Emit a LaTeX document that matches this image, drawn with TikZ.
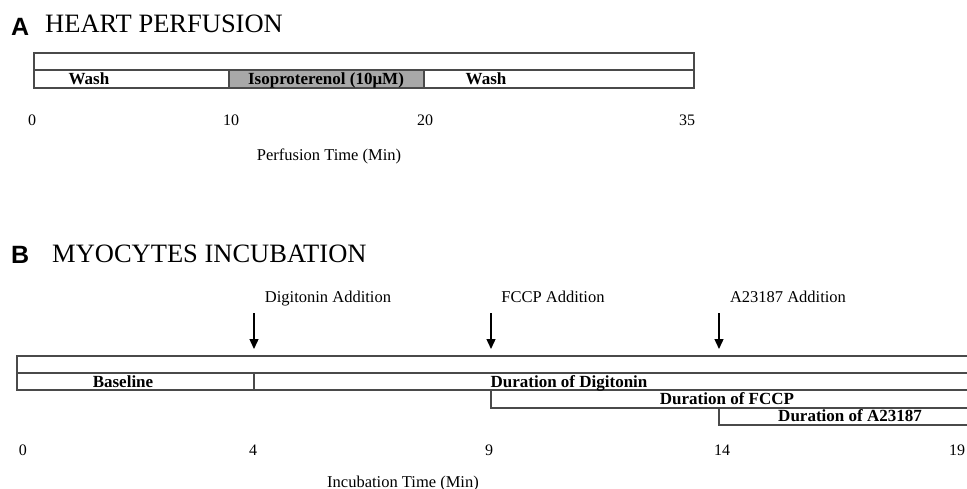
\documentclass[tikz,border=0pt]{standalone}
\usepackage{fontspec}
\setmainfont{Liberation Serif}
\newfontfamily\lettersans{Liberation Sans}
\usetikzlibrary{arrows.meta}
\definecolor{linegray}{HTML}{4A4A4A}
\definecolor{cellgray}{HTML}{A8A8A8}
\tikzset{
  bar/.style={draw=linegray, line width=1.3pt},
  celltxt/.style={inner sep=0pt, anchor=base, font=\fontsize{17}{18}\selectfont\bfseries},
  ticktxt/.style={inner sep=0pt, anchor=base, font=\fontsize{16}{18}\selectfont},
  axistxt/.style={inner sep=0pt, anchor=base, font=\fontsize{16.5}{18}\selectfont},
  titletxt/.style={inner sep=0pt, anchor=base west, font=\fontsize{26.5}{28}\selectfont},
  lettertxt/.style={inner sep=0pt, anchor=base west, font=\fontsize{25}{26}\selectfont\lettersans\bfseries},
  addtxt/.style={inner sep=0pt, anchor=base, font=\fontsize{16.5}{18}\selectfont},
  addarrow/.style={line width=1.4pt, -{Triangle[width=9pt,length=10pt]}}
}
\begin{document}
\begin{tikzpicture}[x=1pt,y=-1pt]
\useasboundingbox (0,0) rectangle (967,489);
\clip (0,0) rectangle (967,489);
% ---------- A ----------
\node[lettertxt] (letA) at (11,36) {A};
\node[titletxt] (titleA) at (45,33) {HEART PERFUSION};
\fill[cellgray] (229,70) rectangle (424,88);
\draw[bar] (34,53) rectangle (694,88);
\draw[bar] (34,70) -- (694,70);
\draw[bar] (229,70) -- (229,88);
\draw[bar] (424,70) -- (424,88);
\node[celltxt] (washA) at (89,85) {Wash};
\node[celltxt] (iso) at (326,85) {Isoproterenol (10μM)};
\node[celltxt] (washB) at (486,85) {Wash};
\node[ticktxt] (ta0) at (32,126) {0};
\node[ticktxt] (ta10) at (231,126) {10};
\node[ticktxt] (ta20) at (425,126) {20};
\node[ticktxt] (ta35) at (687,126) {35};
\node[axistxt] (axisA) at (329,161) {Perfusion Time (Min)};
% ---------- B ----------
\node[lettertxt] (letB) at (11,264) {B};
\node[titletxt] (titleB) at (52,262) {MYOCYTES INCUBATION};
\node[addtxt] (digadd) at (328,302) {Digitonin Addition};
\node[addtxt] (fccpadd) at (553,302) {FCCP Addition};
\node[addtxt] (a23add) at (788,302) {A23187 Addition};
\coordinate (d0) at (254,313);
\coordinate (d1) at (254,349);
\coordinate (f0) at (491,313);
\coordinate (f1) at (491,349);
\coordinate (c0) at (719,313);
\coordinate (c1) at (719,349);
\draw[addarrow] (d0) -- (d1);
\draw[addarrow] (f0) -- (f1);
\draw[addarrow] (c0) -- (c1);
\draw[bar] (975,356) -- (17,356) -- (17,390) -- (975,390);
\draw[bar] (17,373) -- (975,373);
\draw[bar] (254,373) -- (254,390);
\draw[bar] (491,390) -- (491,408) -- (975,408);
\draw[bar] (719,408) -- (719,425) -- (975,425);
\node[celltxt] (base) at (123,387) {Baseline};
\node[celltxt] (durdig) at (569,387) {Duration of Digitonin};
\node[celltxt] (durfccp) at (727,404) {Duration of FCCP};
\node[celltxt] (dura23) at (850,421) {Duration of A23187};
\node[ticktxt] (tb0) at (23,455) {0};
\node[ticktxt] (tb4) at (253,455) {4};
\node[ticktxt] (tb9) at (489,455) {9};
\node[ticktxt] (tb14) at (722,455) {14};
\node[ticktxt] (tb19) at (957,455) {19};
\node[axistxt] (axisB) at (403,487) {Incubation Time (Min)};
\end{tikzpicture}
\end{document}
